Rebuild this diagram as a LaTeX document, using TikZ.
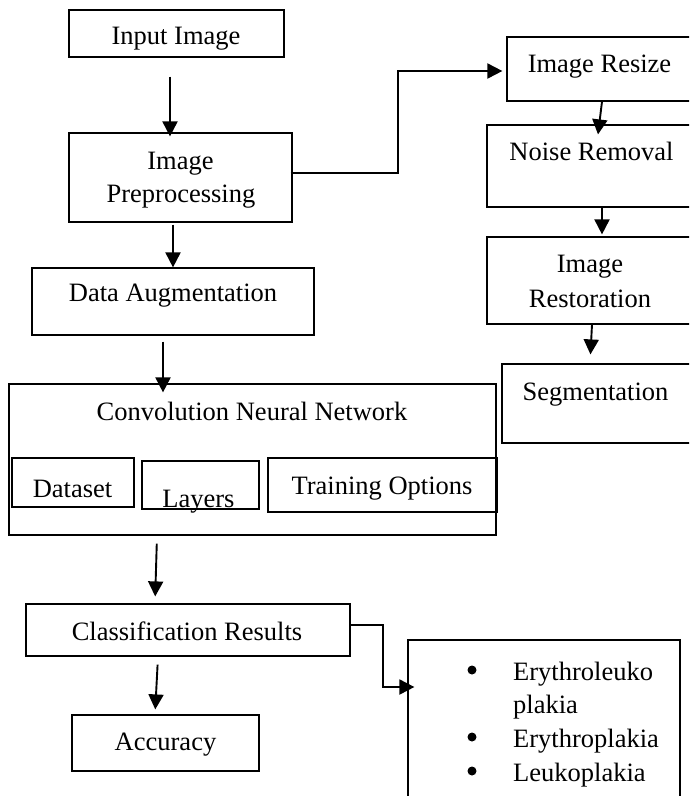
\documentclass[tikz,border=0pt]{standalone}
\usepackage{fontspec}
\setmainfont{Liberation Serif}
\usepackage{tikz}
\usetikzlibrary{arrows.meta}

\begin{document}
\begin{tikzpicture}[x=1pt,y=-1pt]
\tikzstyle{cell}=[rectangle,draw,line width=1.2pt,inner sep=0pt]
\tikzstyle{txt}=[anchor=base,inner sep=0pt,font=\fontsize{26.5}{32}\selectfont]
\tikzstyle{itm}=[txt,anchor=base west]
\tikzstyle{dot}=[circle,fill,inner sep=0pt,minimum width=9pt]
\tikzstyle{arr}=[line width=1.9pt,-{Triangle[length=15pt,width=15pt]}]

\useasboundingbox (0,0) rectangle (689,796);
\clip (0,0) rectangle (689,796);

\node[cell,minimum width=215pt,minimum height=47pt] (c1) at (176.5,33.5) {};
\node[cell,minimum width=223pt,minimum height=89pt] (c2) at (180.5,177.5) {};
\node[cell,minimum width=282pt,minimum height=67pt] (c3) at (173,301.5) {};
\node[cell,minimum width=193pt,minimum height=64pt] (c4) at (603.5,69) {};
\node[cell,minimum width=213pt,minimum height=82pt] (c5) at (593.5,166) {};
\node[cell,minimum width=213pt,minimum height=87pt] (c6) at (593.5,280.5) {};
\node[cell,minimum width=198pt,minimum height=79pt] (c7) at (601,403.5) {};
\node[cell,minimum width=487pt,minimum height=151pt] (c8) at (252.5,459.5) {};
\node[cell,minimum width=122pt,minimum height=49pt] (c9) at (73,482.5) {};
\node[cell,minimum width=117pt,minimum height=48pt] (c10) at (200.5,485) {};
\node[cell,minimum width=229pt,minimum height=54pt] (c11) at (382.5,485) {};
\node[cell,minimum width=324pt,minimum height=52pt] (c12) at (188,630) {};
\node[cell,minimum width=187pt,minimum height=56pt] (c13) at (165.5,743) {};
\node[cell,minimum width=272pt,minimum height=190pt] (c14) at (544,735) {};

\node[txt] (t1) at (176,44) {Input Image};
\node[txt] (t2) at (180.5,169) {Image};
\node[txt] (t3) at (181,202) {Preprocessing};
\node[txt] (t4) at (173,301) {Data Augmentation};
\node[txt] (t5) at (599.5,72) {Image Resize};
\node[txt] (t6) at (591.5,160) {Noise Removal};
\node[txt] (t7) at (590,272) {Image};
\node[txt] (t8) at (590,307) {Restoration};
\node[txt] (t9) at (595.5,400) {Segmentation};
\node[txt] (t10) at (252,420) {Convolution Neural Network};
\node[txt] (t11) at (72.5,497) {Dataset};
\node[txt] (t12) at (198.5,507) {Layers};
\node[txt] (t13) at (382,494) {Training Options};
\node[txt] (t14) at (187,640) {Classification Results};
\node[txt] (t15) at (165.5,750) {Accuracy};

\node[dot] (b1) at (472,670) {};
\node[dot] (b2) at (472,737) {};
\node[dot] (b3) at (472,771) {};
\node[itm] (l1) at (513,680) {Erythroleuko};
\node[itm] (l2) at (513,713) {plakia};
\node[itm] (l3) at (513,747) {Erythroplakia};
\node[itm] (l4) at (513,781) {Leukoplakia};

\draw[arr,shorten <=19pt] ([xshift=-6.5pt]c1.south) -- ([xshift=-10.5pt,yshift=-4pt]c2.north);
\draw[arr,shorten <=2pt] ([xshift=-7.5pt]c2.south) -- (c3.north);
\draw[arr,shorten <=6pt] ([xshift=-10pt]c3.south) -- ([xshift=-89.5pt,yshift=-9pt]c8.north);
\draw[arr,shorten <=8pt,shorten >=7pt] ([xshift=-95.5pt]c8.south) -- ([xshift=-33pt]c12.north);
\draw[arr,shorten <=8pt,shorten >=5pt] ([xshift=-30pt]c12.south) -- ([xshift=-10.5pt]c13.north);
\draw[arr,shorten >=4pt] ([xshift=-2pt,yshift=4.5pt]c2.east) -- ++(107,0) |- ([yshift=-2pt]c4.west);
\draw[arr] ([xshift=-1.5pt]c4.south) -- ([xshift=4.5pt,yshift=-10pt]c5.north);
\draw[arr,shorten >=2pt] ([xshift=8.5pt]c5.south) -- ([xshift=8.5pt]c6.north);
\draw[arr,shorten >=9pt] ([xshift=-1.5pt]c6.south) -- ([xshift=-11pt]c7.north);
\draw[arr] ([yshift=5pt]c12.east) -- ++(32,0) |- ([xshift=7pt,yshift=48pt]c14.west);

\end{tikzpicture}
\end{document}
